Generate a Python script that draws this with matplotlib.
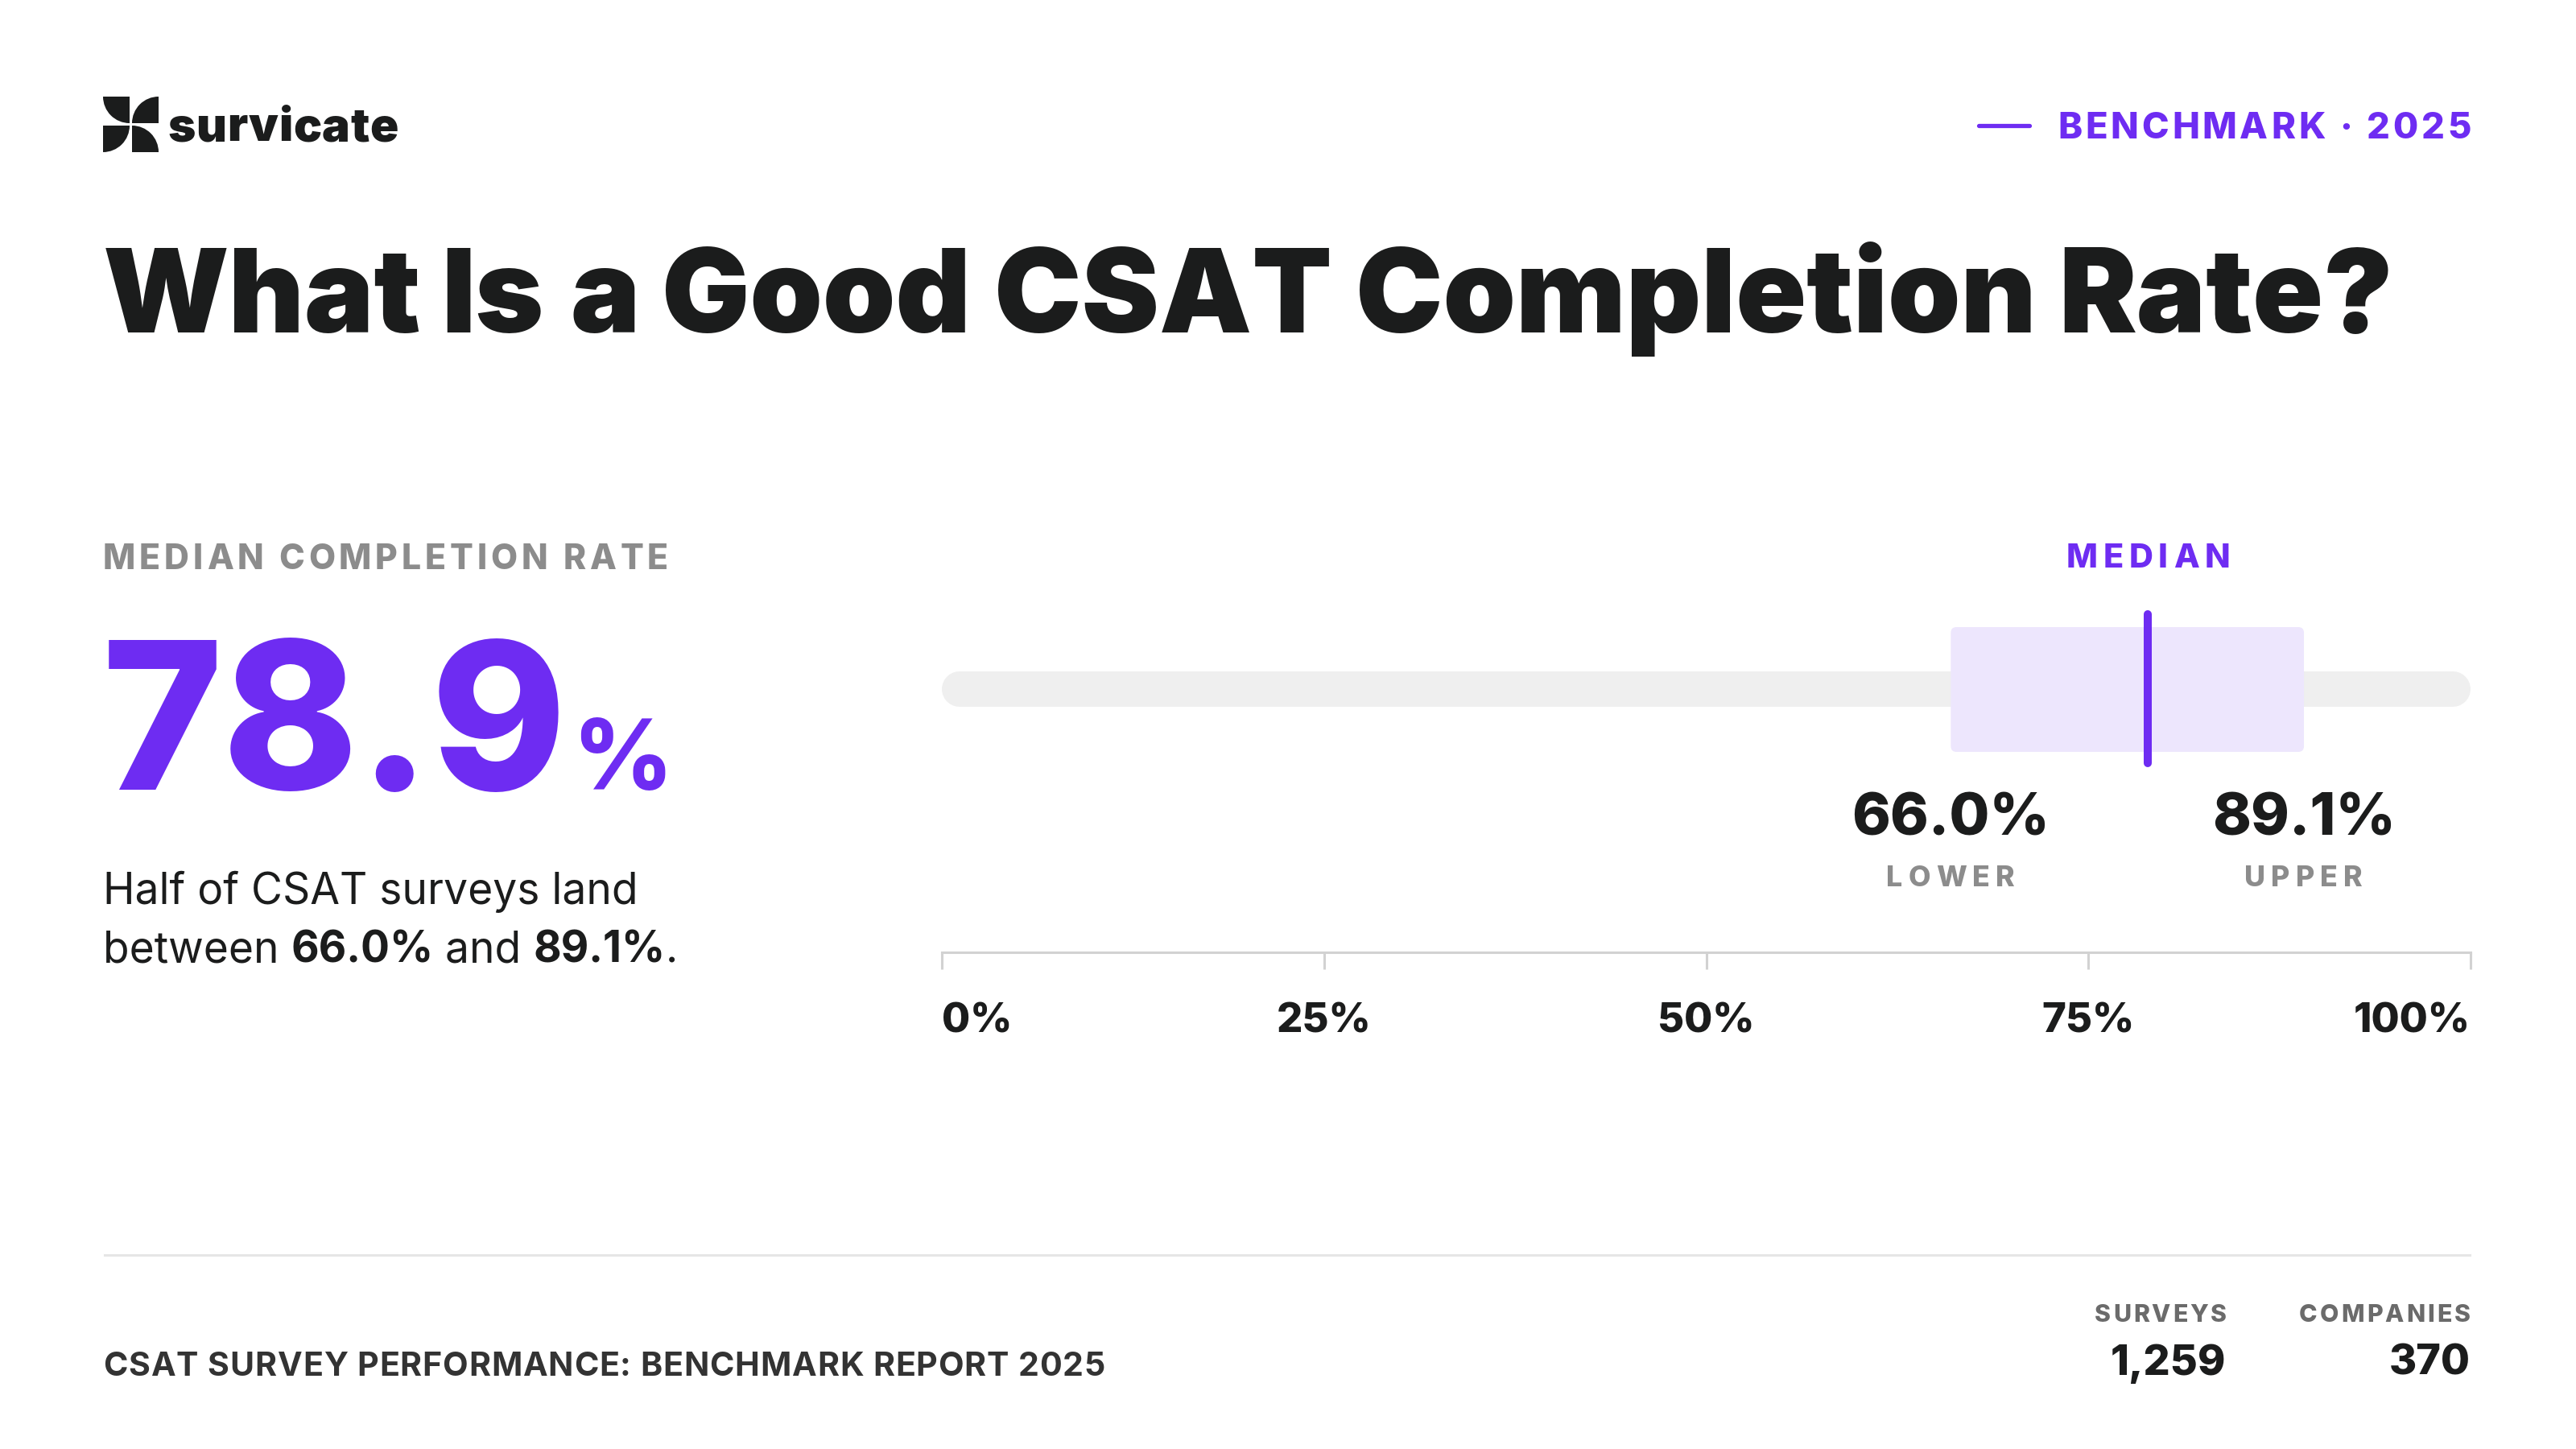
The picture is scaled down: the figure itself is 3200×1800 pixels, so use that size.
import matplotlib
matplotlib.use("Agg")
import matplotlib.pyplot as plt
from matplotlib import font_manager as fm
from matplotlib.ft2font import FT2Font
from matplotlib.patches import FancyBboxPatch, Wedge

# ---- data ----
median = 78.9
lower = 66.0
upper = 89.1
ticks = [0, 25, 50, 75, 100]
tick_labels = ["0%", "25%", "50%", "75%", "100%"]
surveys = 1259
companies = 370

PURPLE = "#6E2CF2"
LAVENDER = "#EDE6FD"
INK = "#1B1C1C"
GREY = "#8C8C8C"
DPI = 200

fig = plt.figure(figsize=(16, 9), dpi=DPI)
fig.patch.set_facecolor("white")

# page canvas in pixel units (y down)
bg = fig.add_axes([0, 0, 1, 1])
bg.set_xlim(0, 3200)
bg.set_ylim(1800, 0)
bg.axis("off")


def inter(size, weight):
    f = FT2Font(fm.findfont(fm.FontProperties(family="Inter", weight=weight)))
    f.set_size(size, DPI)
    return f


def metrics(s, size, weight):
    f = inter(size, weight)
    out = []
    for c in s:
        gl = f.load_char(ord(c))
        out.append((gl.linearHoriAdvance / 65536, gl.horiBearingX / 64, gl.width / 64))
    return out


def ink(s, size, weight):
    # ink width and left bearing of a string set as one piece
    f = inter(size, weight)
    f.set_text(s)
    iw = f.get_width_height()[0] / 64
    bx = f.load_char(ord(s[0])).horiBearingX / 64
    return iw, bx


def place(s, m, gap):
    # pen positions with tracking, pushed apart so no two glyph boxes collide
    xs, pen, prev = [], 0.0, None
    for c, (a, bx, w) in zip(s, m):
        o = pen
        if c != " " and prev is not None:
            po, pbx, pw = prev
            o = max(o, po + pw + 1, po + pbx + pw + 1 - bx)
        xs.append(o)
        if c != " ":
            prev = (o, bx, w)
        pen = o + a + gap
    box = [(x + bx, x + bx + w) for c, x, (a, bx, w) in zip(s, xs, m) if c != " "]
    return xs, box[0][0], box[-1][1]


def spaced(x, y, s, size, weight=700, color=INK, width=None, track=0.0, ha="left"):
    # letter-spaced text placed char by char, aligned on its ink
    em = size * DPI / 72
    while True:
        m = metrics(s, size, weight)
        if width is None or len(s) == 1:
            gap = track * em
            break
        lo, hi = -0.4 * em, 0.8 * em
        xs, a0, a1 = place(s, m, lo)
        if a1 - a0 > width:
            size *= 0.985
            em = size * DPI / 72
            continue
        for _ in range(40):
            mid = (lo + hi) / 2
            xs, a0, a1 = place(s, m, mid)
            if a1 - a0 > width:
                hi = mid
            else:
                lo = mid
        gap = lo
        break
    xs, a0, a1 = place(s, m, gap)
    shift = x - {"left": a0, "center": (a0 + a1) / 2, "right": a1}[ha]
    for c, xo in zip(s, xs):
        if c != " ":
            bg.text(xo + shift, y, c, fontsize=size, fontweight=weight, family="Inter",
                    color=color, ha="left", va="baseline")


def headline(x, y, s, size, weight, color, width, word_gap=0.2):
    # one text per word, size fitted so the line spans `width`
    words = s.split(" ")

    def layout(sz):
        info = [ink(w, sz, weight) for w in words]
        gap = word_gap * sz * DPI / 72
        return info, sum(i for i, _ in info) + gap * (len(words) - 1), gap

    for _ in range(3):
        info, tot, gap = layout(size)
        size *= width / tot
    info, tot, gap = layout(size)
    pen = x
    for w, (iw, bx) in zip(words, info):
        bg.text(pen - bx, y, w, fontsize=size, fontweight=weight, family="Inter",
                color=color, ha="left", va="baseline")
        pen += iw + gap


def fit(s, weight, width, base=20):
    return base * width / sum(a for a, _, _ in metrics(s, base, weight))


# ---- header ----
x0, y0, s, g = 128, 120, 33, 3
for c, th in [((x0 + s, y0), (90, 180)),
              ((x0 + 2 * s + g, y0 + s), (180, 270)),
              ((x0, y0 + s + g), (0, 90)),
              ((x0 + s + g, y0 + 2 * s + g), (270, 360))]:
    bg.add_patch(Wedge(c, s, th[0], th[1], fc=INK, ec="none"))
spaced(210, 175, "survicate", 21, 900, INK, width=283)

bg.plot([2458, 2521], [156, 156], color=PURPLE, lw=1.9, solid_capstyle="round")
spaced(3068, 172, "BENCHMARK · 2025", 16.3, 800, PURPLE, width=509, ha="right")

headline(131, 413, "What Is a Good CSAT Completion Rate?", 58, 900, INK, width=2849)

# ---- left block ----
spaced(130, 707, "MEDIAN COMPLETION RATE", 15.4, 800, GREY, width=698)
big = f"{median}"
size = 95
for _ in range(3):
    size *= 578 / ink(big, size, 800)[0]
iw, bx = ink(big, size, 800)
bg.text(135 - bx, 981, big, fontsize=size, fontweight=800, family="Inter",
        color=PURPLE, ha="left", va="baseline")
spaced(135 + iw + 8, 981, "%", 43.5, 800, PURPLE)

body = fit("Half of CSAT surveys land", 400, 664)
bg.text(128, 1123, "Half of CSAT surveys land", fontsize=body, family="Inter",
        color=INK, va="baseline")
xx = 128
for part, w in [("between ", 400), (f"{lower:.1f}%", 700), (" and ", 400),
                (f"{upper:.1f}%", 700), (".", 400)]:
    bg.text(xx, 1195, part, fontsize=body, fontweight=w, family="Inter",
            color=INK, va="baseline")
    xx += sum(a for a, _, _ in metrics(part, body, w))

# ---- range chart ----
L, R = 1170, 3069
TOP, AXIS = 640, 1183
ax = fig.add_axes([L / 3200, 1 - AXIS / 1800, (R - L) / 3200, (AXIS - TOP) / 1800])
ax.set_xlim(ticks[0], ticks[-1])
ax.set_ylim(AXIS, TOP)
ax.patch.set_alpha(0)
for sp in ["top", "left", "right"]:
    ax.spines[sp].set_visible(False)
ax.spines["bottom"].set_color("#D2D2D2")
ax.spines["bottom"].set_linewidth(1.1)
ax.set_yticks([])
ax.set_xticks(ticks)
ax.set_xticklabels(tick_labels)
ax.tick_params(axis="x", direction="out", length=7.5, width=1.1, color="#D2D2D2",
               pad=15, labelsize=18.3, labelcolor=INK)
labs = ax.get_xticklabels()
for lab in labs:
    lab.set_fontweight(800)
    lab.set_family("Inter")
labs[0].set_ha("left")
labs[-1].set_ha("right")

ppu = (R - L) / (ticks[-1] - ticks[0])  # pixels per percentage point
track_h = 44
r = track_h / 2 / ppu
ax.plot([ticks[0] + r, ticks[-1] - r], [856, 856], color="#EFEFEF",
        lw=track_h * 72 / DPI, solid_capstyle="round", zorder=1)
ax.add_patch(FancyBboxPatch((lower, 779), upper - lower, 155,
                            boxstyle=f"round,pad=0,rounding_size={7 / ppu}",
                            mutation_aspect=ppu, fc=LAVENDER, ec="none", zorder=2))
ax.plot([median, median], [763, 948], color=PURPLE, lw=3.6,
        solid_capstyle="round", zorder=3)


def xp(v):
    return ax.transData.transform((v, 0))[0]


spaced(xp(median), 705, "MEDIAN", 14.9, 800, PURPLE, width=199, ha="center")
num = fit(f"{lower:.1f}%", 800, 246)
for v, name, wd in [(lower, "LOWER", 157), (upper, "UPPER", 144)]:
    bg.text(xp(v), 1038, f"{v:.1f}%", fontsize=num, fontweight=800, family="Inter",
            color=INK, ha="center", va="baseline")
    spaced(xp(v), 1101, name, 12.9, 800, GREY, width=wd, ha="center")

# ---- footer ----
bg.plot([130, 3068], [1559, 1559], color="#E6E6E6", lw=1.1)
spaced(130, 1709, "CSAT SURVEY PERFORMANCE: BENCHMARK REPORT 2025", 14.8, 700,
       "#333333", width=1241)
spaced(2765, 1642, "SURVEYS", 10.9, 800, "#6B6B6B", width=162, ha="right")
spaced(3068, 1642, "COMPANIES", 10.9, 800, "#6B6B6B", width=211, ha="right")
bg.text(2765, 1708, f"{surveys:,}", fontsize=18.8, fontweight=800, family="Inter",
        color=INK, ha="right", va="baseline")
bg.text(3069, 1708, f"{companies}", fontsize=18.8, fontweight=800, family="Inter",
        color=INK, ha="right", va="baseline")

fig.savefig("out.png", dpi=DPI, facecolor="white")
